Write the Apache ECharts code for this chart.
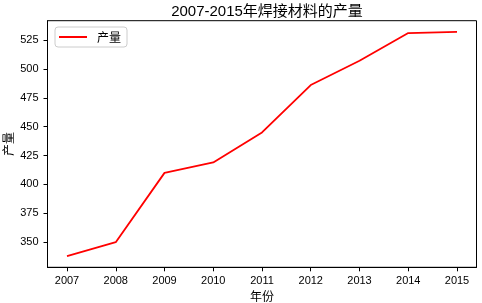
<!DOCTYPE html>
<html>
<head>
<meta charset="utf-8">
<script src="https://cdn.jsdelivr.net/npm/echarts@6/dist/echarts.min.js"></script>
<style>html,body{margin:0;padding:0;background:#fff;}#c{width:482px;height:303px;}</style>
</head>
<body>
<div id="c"></div>
<script>
const years = [2007, 2008, 2009, 2010, 2011, 2012, 2013, 2014, 2015];
const output = [338, 350, 410, 419, 445, 486, 507, 531, 532];
const yTicks = [350, 375, 400, 425, 450, 475, 500, 525];
const titleText = '2007-2015年焊接材料的产量';
const seriesName = '产量';
const xName = '年份';
const yName = '产量';

const FONT = '"Noto Sans CJK SC", sans-serif';
const NUMFONT = '"Liberation Sans", "Noto Sans CJK SC", sans-serif';
const chart = echarts.init(document.getElementById('c'), null, {renderer: 'canvas'});
const xPad = (years[years.length - 1] - years[0]) * 0.05;
const yMinD = Math.min(...output), yMaxD = Math.max(...output);
const yPad = (yMaxD - yMinD) * 0.05;

chart.setOption({
  animation: false,
  backgroundColor: '#fff',
  title: {
    text: titleText, left: 262, top: -1, textAlign: 'center',
    textStyle: {fontFamily: NUMFONT, fontSize: 15, fontWeight: 'normal', color: '#000'}
  },
  legend: {
    left: 55, top: 27,
    padding: [4, 6, 4, 4],
    borderColor: '#cccccc', borderWidth: 1, borderRadius: 3,
    backgroundColor: 'rgba(255,255,255,0.8)',
    itemWidth: 28, itemHeight: 12,
    textStyle: {fontFamily: FONT, fontSize: 12, color: '#000', padding: [0, 0, 0, 5]},
    data: [{name: seriesName, icon: 'path://M0,0 L28,0 L28,2 L0,2 Z', itemStyle: {color: '#ff0000'}}]
  },
  grid: {left: 47.5, right: 5.5, top: 20.7, bottom: 35.7, outerBoundsMode: 'none', containLabel: false, show: true, borderColor: '#000', borderWidth: 1, backgroundColor: 'transparent'},
  xAxis: {
    type: 'value',
    min: years[0] - xPad, max: years[years.length - 1] + xPad,
    name: xName, nameLocation: 'middle', nameGap: 23, nameMoveOverlap: false,
    nameTextStyle: {fontFamily: FONT, fontSize: 12, color: '#000'},
    axisLine: {show: true, onZero: false, lineStyle: {color: '#000', width: 1}},
    axisTick: {show: true, length: 4, lineStyle: {color: '#000'}, customValues: years},
    axisLabel: {customValues: years, fontFamily: NUMFONT, fontSize: 11, color: '#000', margin: 8, formatter: v => String(v)},
    splitLine: {show: false}
  },
  yAxis: {
    type: 'value',
    min: yMinD - yPad, max: yMaxD + yPad,
    name: yName, nameLocation: 'middle', nameGap: 33, nameMoveOverlap: false,
    nameTextStyle: {fontFamily: FONT, fontSize: 12, color: '#000'},
    axisLine: {show: true, lineStyle: {color: '#000', width: 1}},
    axisTick: {show: true, length: 4, lineStyle: {color: '#000'}, customValues: yTicks},
    axisLabel: {customValues: yTicks, fontFamily: NUMFONT, fontSize: 11, color: '#000', margin: 9, formatter: v => String(v)},
    splitLine: {show: false}
  },
  series: [{
    name: seriesName, type: 'line',
    data: years.map((y, i) => [y, output[i]]),
    symbol: 'none',
    lineStyle: {color: '#ff0000', width: 1.8},
    itemStyle: {color: '#ff0000'}
  }]
});
</script>
</body>
</html>
